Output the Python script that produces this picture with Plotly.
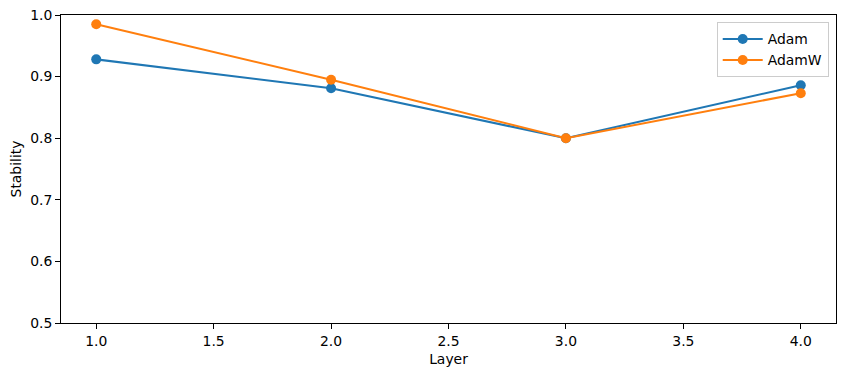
import plotly.graph_objects as go

layers = [1, 2, 3, 4]
adam = [0.928, 0.881, 0.800, 0.886]
adamw = [0.985, 0.895, 0.800, 0.873]

fig = go.Figure()
fig.add_trace(go.Scatter(x=layers, y=adam, mode="lines+markers", name="Adam",
                         line=dict(color="#1f77b4", width=2.1), marker=dict(size=10, color="#1f77b4")))
fig.add_trace(go.Scatter(x=layers, y=adamw, mode="lines+markers", name="AdamW",
                         line=dict(color="#ff7f0e", width=2.1), marker=dict(size=10, color="#ff7f0e")))

font = dict(family="DejaVu Sans", size=13.9, color="black")
fig.update_layout(
    width=846, height=376,
    margin=dict(l=61, r=10, t=15, b=53),
    paper_bgcolor="white", plot_bgcolor="white",
    font=font,
    showlegend=True,
    legend=dict(x=0.9906, y=0.976, xanchor="right", yanchor="top",
                bordercolor="#cccccc", borderwidth=1, bgcolor="white",
                font=dict(family="DejaVu Sans", size=13.9), tracegroupgap=0,
                itemwidth=40),
)
fig.update_xaxes(range=[0.85, 4.15], tickvals=[1.0, 1.5, 2.0, 2.5, 3.0, 3.5, 4.0],
                 ticktext=["1.0", "1.5", "2.0", "2.5", "3.0", "3.5", "4.0"],
                 showgrid=False, zeroline=False, showline=True, linecolor="black", linewidth=1,
                 mirror=True, ticks="outside", ticklen=5, tickcolor="black", automargin=False,
                 title=dict(text="Layer", standoff=6, font=font))
fig.update_yaxes(range=[0.5, 1.0], tickvals=[0.5, 0.6, 0.7, 0.8, 0.9, 1.0],
                 ticktext=["0.5", "0.6", "0.7", "0.8", "0.9", "1.0"],
                 showgrid=False, zeroline=False, showline=True, linecolor="black", linewidth=1,
                 mirror=True, ticks="outside", ticklen=5, tickcolor="black", automargin=False,
                 title=dict(text="Stability", standoff=5, font=font))

fig.write_html("out.html")
